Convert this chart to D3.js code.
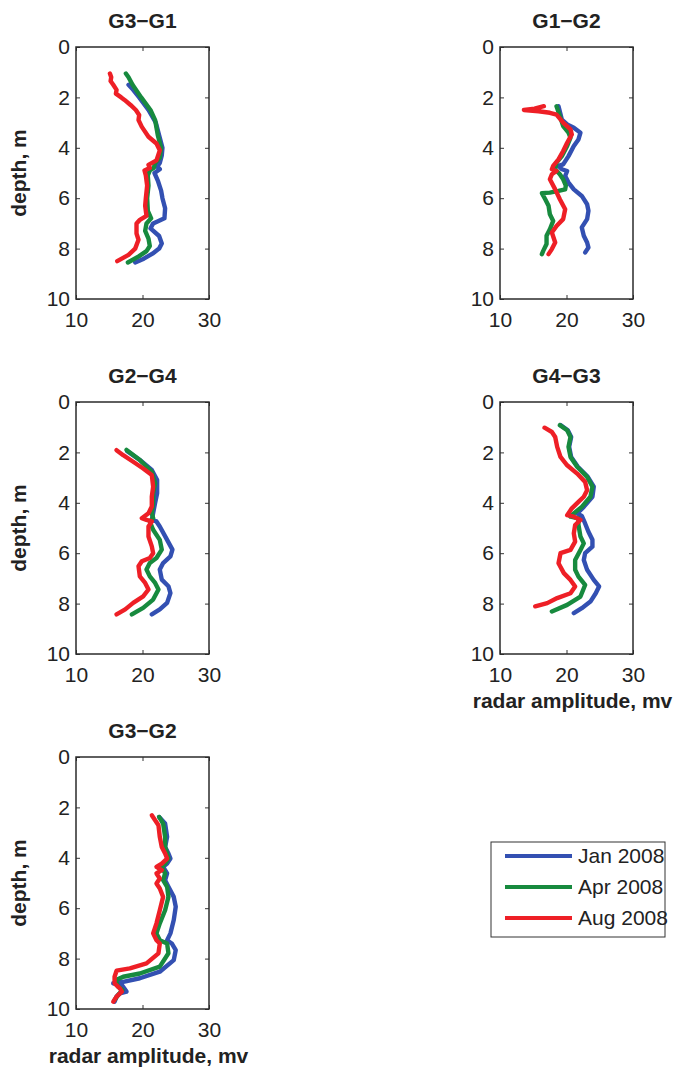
<!DOCTYPE html>
<html>
<head>
<meta charset="utf-8">
<script src="https://cdn.jsdelivr.net/npm/d3@7"></script>
<style>
  body { margin: 0; background: #fff; }
  svg { display: block; font-family: "Liberation Sans", Arial, sans-serif; }
</style>
</head>
<body>
<div id="chart"></div>
<script>
// series names + ticks
var seriesNames = ["Jan 2008", "Apr 2008", "Aug 2008"]
var seriesColors = ["#3350b2", "#178a3e", "#ee1f26"]
var xTicks = [10, 20, 30]
var yTicks = [0, 2, 4, 6, 8, 10]

// each profile is [depth m, amplitude mv]
var g3g1Jan = [[1.5,17.9],[1.7,18.6],[2.0,19.5],[2.5,20.9],[3.0,22.0],[3.5,22.5],[4.0,23.0],[4.3,22.9],[4.6,22.6],[4.75,22.2],[4.85,22.6],[5.0,21.8],[5.3,22.3],[5.7,22.8],[6.0,23.0],[6.4,23.4],[6.8,23.3],[7.0,21.6],[7.2,21.2],[7.5,22.5],[7.8,22.9],[8.0,22.5],[8.2,21.5],[8.4,20.2],[8.55,18.9]]
var g3g1Apr = [[1.05,17.5],[1.2,17.9],[1.5,18.5],[2.0,19.8],[2.5,21.2],[2.9,21.9],[3.5,22.3],[4.0,22.8],[4.4,22.6],[4.6,21.9],[4.8,21.7],[4.9,21.1],[5.1,20.8],[5.5,20.9],[6.0,20.7],[6.5,20.8],[6.8,21.3],[7.0,20.6],[7.3,20.4],[7.6,20.9],[7.9,21.1],[8.1,20.6],[8.3,19.5],[8.55,17.8]]
var g3g1Aug = [[1.05,15.1],[1.2,15.3],[1.35,15.2],[1.5,15.6],[1.7,16.1],[1.85,16.0],[2.0,16.8],[2.1,17.3],[2.3,18.2],[2.5,19.0],[2.7,19.5],[2.9,19.4],[3.17,19.9],[3.56,20.9],[3.83,22.1],[4.1,22.6],[4.5,22.1],[4.68,20.9],[4.8,21.1],[4.9,20.3],[5.1,20.5],[5.5,20.7],[6.0,20.5],[6.3,20.4],[6.7,20.6],[6.86,19.6],[7.0,19.1],[7.4,19.1],[7.65,19.4],[8.0,18.9],[8.25,17.9],[8.5,16.2]]

var g1g2Jan = [[2.35,18.8],[2.88,19.3],[3.07,20.1],[3.2,21.1],[3.4,22.1],[3.67,21.8],[3.93,21.1],[4.33,20.3],[4.66,19.5],[4.72,18.8],[4.85,19.3],[4.92,20.1],[5.12,19.8],[5.38,20.3],[5.65,21.1],[5.91,22.3],[6.24,23.1],[6.5,23.3],[6.83,23.1],[7.16,22.3],[7.49,22.6],[7.76,23.1],[7.96,23.3],[8.15,22.8]]
var g1g2Apr = [[2.35,18.5],[2.74,19.0],[3.14,19.5],[3.4,20.3],[3.6,20.6],[3.93,20.1],[4.33,19.3],[4.59,18.5],[4.85,18.3],[5.05,19.0],[5.25,19.5],[5.5,19.9],[5.65,19.8],[5.71,18.8],[5.78,17.5],[5.8,16.3],[6.04,16.8],[6.3,17.3],[6.64,17.5],[6.9,18.0],[7.23,17.5],[7.49,17.0],[7.82,17.0],[8.09,16.5],[8.22,16.3]]
var g1g2Aug = [[2.35,16.6],[2.45,15.2],[2.5,13.6],[2.55,15.8],[2.61,17.5],[2.68,18.5],[3.0,19.5],[3.27,20.6],[3.47,20.8],[3.8,20.1],[4.13,19.5],[4.46,18.8],[4.72,18.0],[4.85,17.8],[4.92,18.5],[5.05,17.8],[5.25,17.5],[5.65,18.3],[6.04,19.0],[6.44,19.8],[6.83,19.5],[7.1,18.5],[7.36,17.8],[7.76,18.3],[8.02,17.8],[8.22,17.3]]

var g2g4Jan = [[1.95,17.7],[2.3,19.6],[2.7,21.4],[3.1,22.2],[3.62,22.2],[4.0,21.9],[4.41,21.6],[4.68,21.4],[4.74,22.1],[4.94,22.6],[5.47,23.7],[5.86,24.5],[6.13,24.2],[6.39,23.1],[6.65,22.6],[7.05,22.9],[7.31,23.9],[7.58,24.2],[7.97,23.7],[8.23,22.6],[8.43,21.4]]
var g2g4Apr = [[1.9,17.6],[2.3,19.6],[2.77,21.4],[3.23,21.9],[3.62,21.6],[4.02,21.6],[4.41,21.4],[4.61,21.6],[4.74,21.1],[5.07,21.6],[5.47,22.6],[5.86,22.9],[6.19,22.1],[6.39,21.1],[6.65,20.6],[6.92,21.1],[7.18,21.9],[7.44,22.4],[7.84,21.6],[8.17,20.1],[8.43,18.4]]
var g2g4Aug = [[1.91,16.1],[2.11,17.1],[2.37,18.6],[2.64,20.1],[2.9,21.4],[3.36,21.6],[3.75,21.4],[4.15,21.4],[4.41,20.9],[4.61,19.9],[4.68,20.6],[4.74,21.4],[4.94,20.9],[5.34,20.9],[5.73,21.4],[6.0,21.6],[6.19,21.1],[6.32,19.9],[6.52,19.4],[6.92,19.6],[7.18,20.4],[7.44,20.9],[7.71,20.1],[7.97,18.6],[8.23,17.4],[8.43,16.1]]

var g4g3Jan = [[0.92,19.1],[1.12,20.2],[1.39,20.7],[1.78,20.4],[2.18,20.7],[2.57,21.7],[2.97,23.2],[3.36,24.1],[3.76,23.9],[4.16,22.6],[4.42,21.6],[4.52,22.3],[4.82,22.8],[5.15,23.3],[5.47,23.9],[5.74,23.9],[6.0,22.8],[6.27,22.6],[6.66,23.1],[7.06,24.1],[7.32,24.9],[7.59,24.4],[7.92,23.6],[8.18,22.3],[8.38,21.1]]
var g4g3Apr = [[0.92,19.0],[1.12,20.1],[1.39,20.6],[1.78,20.3],[2.18,20.6],[2.57,21.6],[2.97,23.1],[3.36,23.9],[3.76,23.6],[4.16,22.3],[4.42,21.1],[4.55,20.6],[4.62,21.8],[4.88,21.8],[5.34,22.1],[5.61,22.6],[5.87,22.1],[6.27,21.3],[6.66,21.3],[6.93,21.8],[7.26,22.8],[7.72,22.1],[8.05,20.1],[8.31,17.8]]
var g4g3Aug = [[1.02,16.7],[1.19,17.8],[1.39,18.3],[1.78,18.6],[2.18,19.1],[2.51,20.1],[2.84,21.6],[3.17,22.8],[3.5,23.1],[3.76,22.6],[3.96,21.8],[4.22,20.8],[4.49,20.1],[4.55,21.1],[4.68,22.1],[4.88,21.3],[5.21,21.1],[5.54,21.3],[5.87,20.6],[6.0,19.1],[6.4,18.8],[6.79,19.6],[7.06,20.6],[7.32,21.3],[7.59,20.6],[7.78,18.6],[7.98,17.1],[8.11,15.3]]

var g3g2Jan = [[2.38,22.5],[2.64,23.4],[3.17,23.7],[3.57,23.4],[3.83,23.9],[4.03,24.2],[4.23,23.7],[4.36,23.1],[4.62,23.7],[4.89,23.4],[5.15,23.9],[5.55,24.7],[5.94,25.0],[6.47,24.7],[7.0,24.2],[7.27,23.7],[7.4,24.4],[7.66,25.0],[8.06,24.7],[8.52,22.6],[8.78,19.6],[8.92,17.1],[8.98,15.6],[9.05,16.9],[9.31,17.6],[9.38,16.6],[9.51,16.1],[9.71,15.8]]
var g3g2Apr = [[2.38,22.5],[2.64,23.1],[3.17,23.4],[3.57,23.4],[3.83,23.7],[4.03,23.9],[4.23,23.4],[4.36,22.9],[4.62,23.4],[4.89,23.1],[5.15,23.7],[5.55,23.9],[6.08,23.4],[6.6,22.6],[7.0,22.1],[7.27,22.6],[7.4,23.7],[7.79,23.9],[8.32,22.6],[8.59,19.6],[8.72,17.1],[8.85,16.0],[9.11,16.3],[9.25,17.0],[9.45,16.3],[9.64,15.8]]
var g3g2Aug = [[2.31,21.4],[2.51,21.9],[2.71,22.4],[3.17,22.6],[3.57,22.9],[3.83,23.4],[4.03,23.7],[4.23,22.9],[4.36,22.1],[4.49,22.9],[4.62,22.1],[4.82,22.6],[5.02,22.1],[5.22,22.6],[5.55,23.1],[6.08,22.6],[6.6,22.1],[7.0,21.6],[7.27,22.1],[7.4,22.6],[7.79,22.4],[8.19,20.6],[8.39,18.1],[8.48,16.1],[8.72,15.8],[8.98,15.8],[9.18,16.6],[9.31,16.9],[9.51,16.1],[9.71,15.6]]

// panel layout
var panels = [
    { title: "G3\u2212G1", left: 76, top: 47, series: [g3g1Jan, g3g1Apr, g3g1Aug], ylab: true, xlab: false },
    { title: "G1\u2212G2", left: 500, top: 47, series: [g1g2Jan, g1g2Apr, g1g2Aug], ylab: false, xlab: false },
    { title: "G2\u2212G4", left: 76, top: 402, series: [g2g4Jan, g2g4Apr, g2g4Aug], ylab: true, xlab: false },
    { title: "G4\u2212G3", left: 500, top: 402, series: [g4g3Jan, g4g3Apr, g4g3Aug], ylab: false, xlab: true },
    { title: "G3\u2212G2", left: 76, top: 757, series: [g3g2Jan, g3g2Apr, g3g2Aug], ylab: true, xlab: true }
]

var svgWidth = 681
var svgHeight = 1070
var plotW = 133
var plotH = 252

var svg = d3.select("#chart")
    .append("svg")
    .attr("width", svgWidth)
    .attr("height", svgHeight)

svg.append("rect").attr("width", svgWidth).attr("height", svgHeight).attr("fill", "#fff")

var xScale = d3.scaleLinear().domain([10, 30]).range([0, plotW])
var yScale = d3.scaleLinear().domain([0, 10]).range([0, plotH])

var line = d3.line()
    .x(d => xScale(d[1]))
    .y(d => yScale(d[0]))

panels.forEach((p) => {
    var g = svg.append("g").attr("transform", `translate(${p.left}, ${p.top})`)

    // axes with inward ticks
    g.append("g")
        .call(d3.axisLeft(yScale).tickValues(yTicks).tickSize(-4).tickPadding(6))
    g.append("g")
        .attr("transform", `translate(0, ${plotH})`)
        .call(d3.axisBottom(xScale).tickValues(xTicks).tickSize(-4).tickPadding(13))
    g.append("g")
        .attr("transform", `translate(${plotW}, 0)`)
        .call(d3.axisRight(yScale).tickValues(yTicks).tickSize(-4).tickFormat(""))
    g.append("g")
        .call(d3.axisTop(xScale).tickValues(xTicks).tickSize(-4).tickFormat(""))

    g.selectAll(".domain").remove()
    g.selectAll(".tick line").attr("stroke", "#333").attr("stroke-width", 1)
    g.selectAll(".tick text")
        .attr("font-size", 21)
        .attr("font-family", "Liberation Sans, Arial, sans-serif")
        .attr("fill", "#222")

    g.append("rect")
        .attr("width", plotW)
        .attr("height", plotH)
        .attr("fill", "none")
        .attr("stroke", "#2b2b2b")
        .attr("stroke-width", 1.5)

    // profiles
    p.series.forEach((s, i) => {
        g.append("path")
            .datum(s)
            .attr("d", line)
            .attr("fill", "none")
            .attr("stroke", seriesColors[i])
            .attr("stroke-width", 4.4)
            .attr("stroke-linejoin", "round")
            .attr("stroke-linecap", "round")
    })

    g.append("text")
        .attr("x", plotW / 2)
        .attr("y", -19)
        .attr("text-anchor", "middle")
        .attr("font-size", 21)
        .attr("font-weight", "bold")
        .attr("fill", "#222")
        .text(p.title)

    if (p.ylab) {
        g.append("text")
            .attr("transform", `translate(${-50}, ${plotH / 2}) rotate(-90)`)
            .attr("text-anchor", "middle")
            .attr("font-size", 21)
            .attr("font-weight", "bold")
            .attr("fill", "#222")
            .text("depth, m")
    }
    if (p.xlab) {
        g.append("text")
            .attr("x", plotW / 2 + 6)
            .attr("y", plotH + 54)
            .attr("text-anchor", "middle")
            .attr("font-size", 21)
            .attr("font-weight", "bold")
            .attr("fill", "#222")
            .text("radar amplitude, mv")
    }
})

// legend
var legend = svg.append("g").attr("transform", "translate(491, 842)")
legend.append("rect")
    .attr("width", 174)
    .attr("height", 95)
    .attr("fill", "#fff")
    .attr("stroke", "#333")
    .attr("stroke-width", 1)

seriesNames.forEach((name, i) => {
    var yy = 14 + i * 31
    legend.append("line")
        .attr("x1", 14).attr("x2", 81)
        .attr("y1", yy).attr("y2", yy)
        .attr("stroke", seriesColors[i])
        .attr("stroke-width", 4)
    legend.append("text")
        .attr("x", 87)
        .attr("y", yy)
        .attr("dy", "0.35em")
        .attr("font-size", 21)
        .attr("fill", "#222")
        .text(name)
})
</script>
</body>
</html>
